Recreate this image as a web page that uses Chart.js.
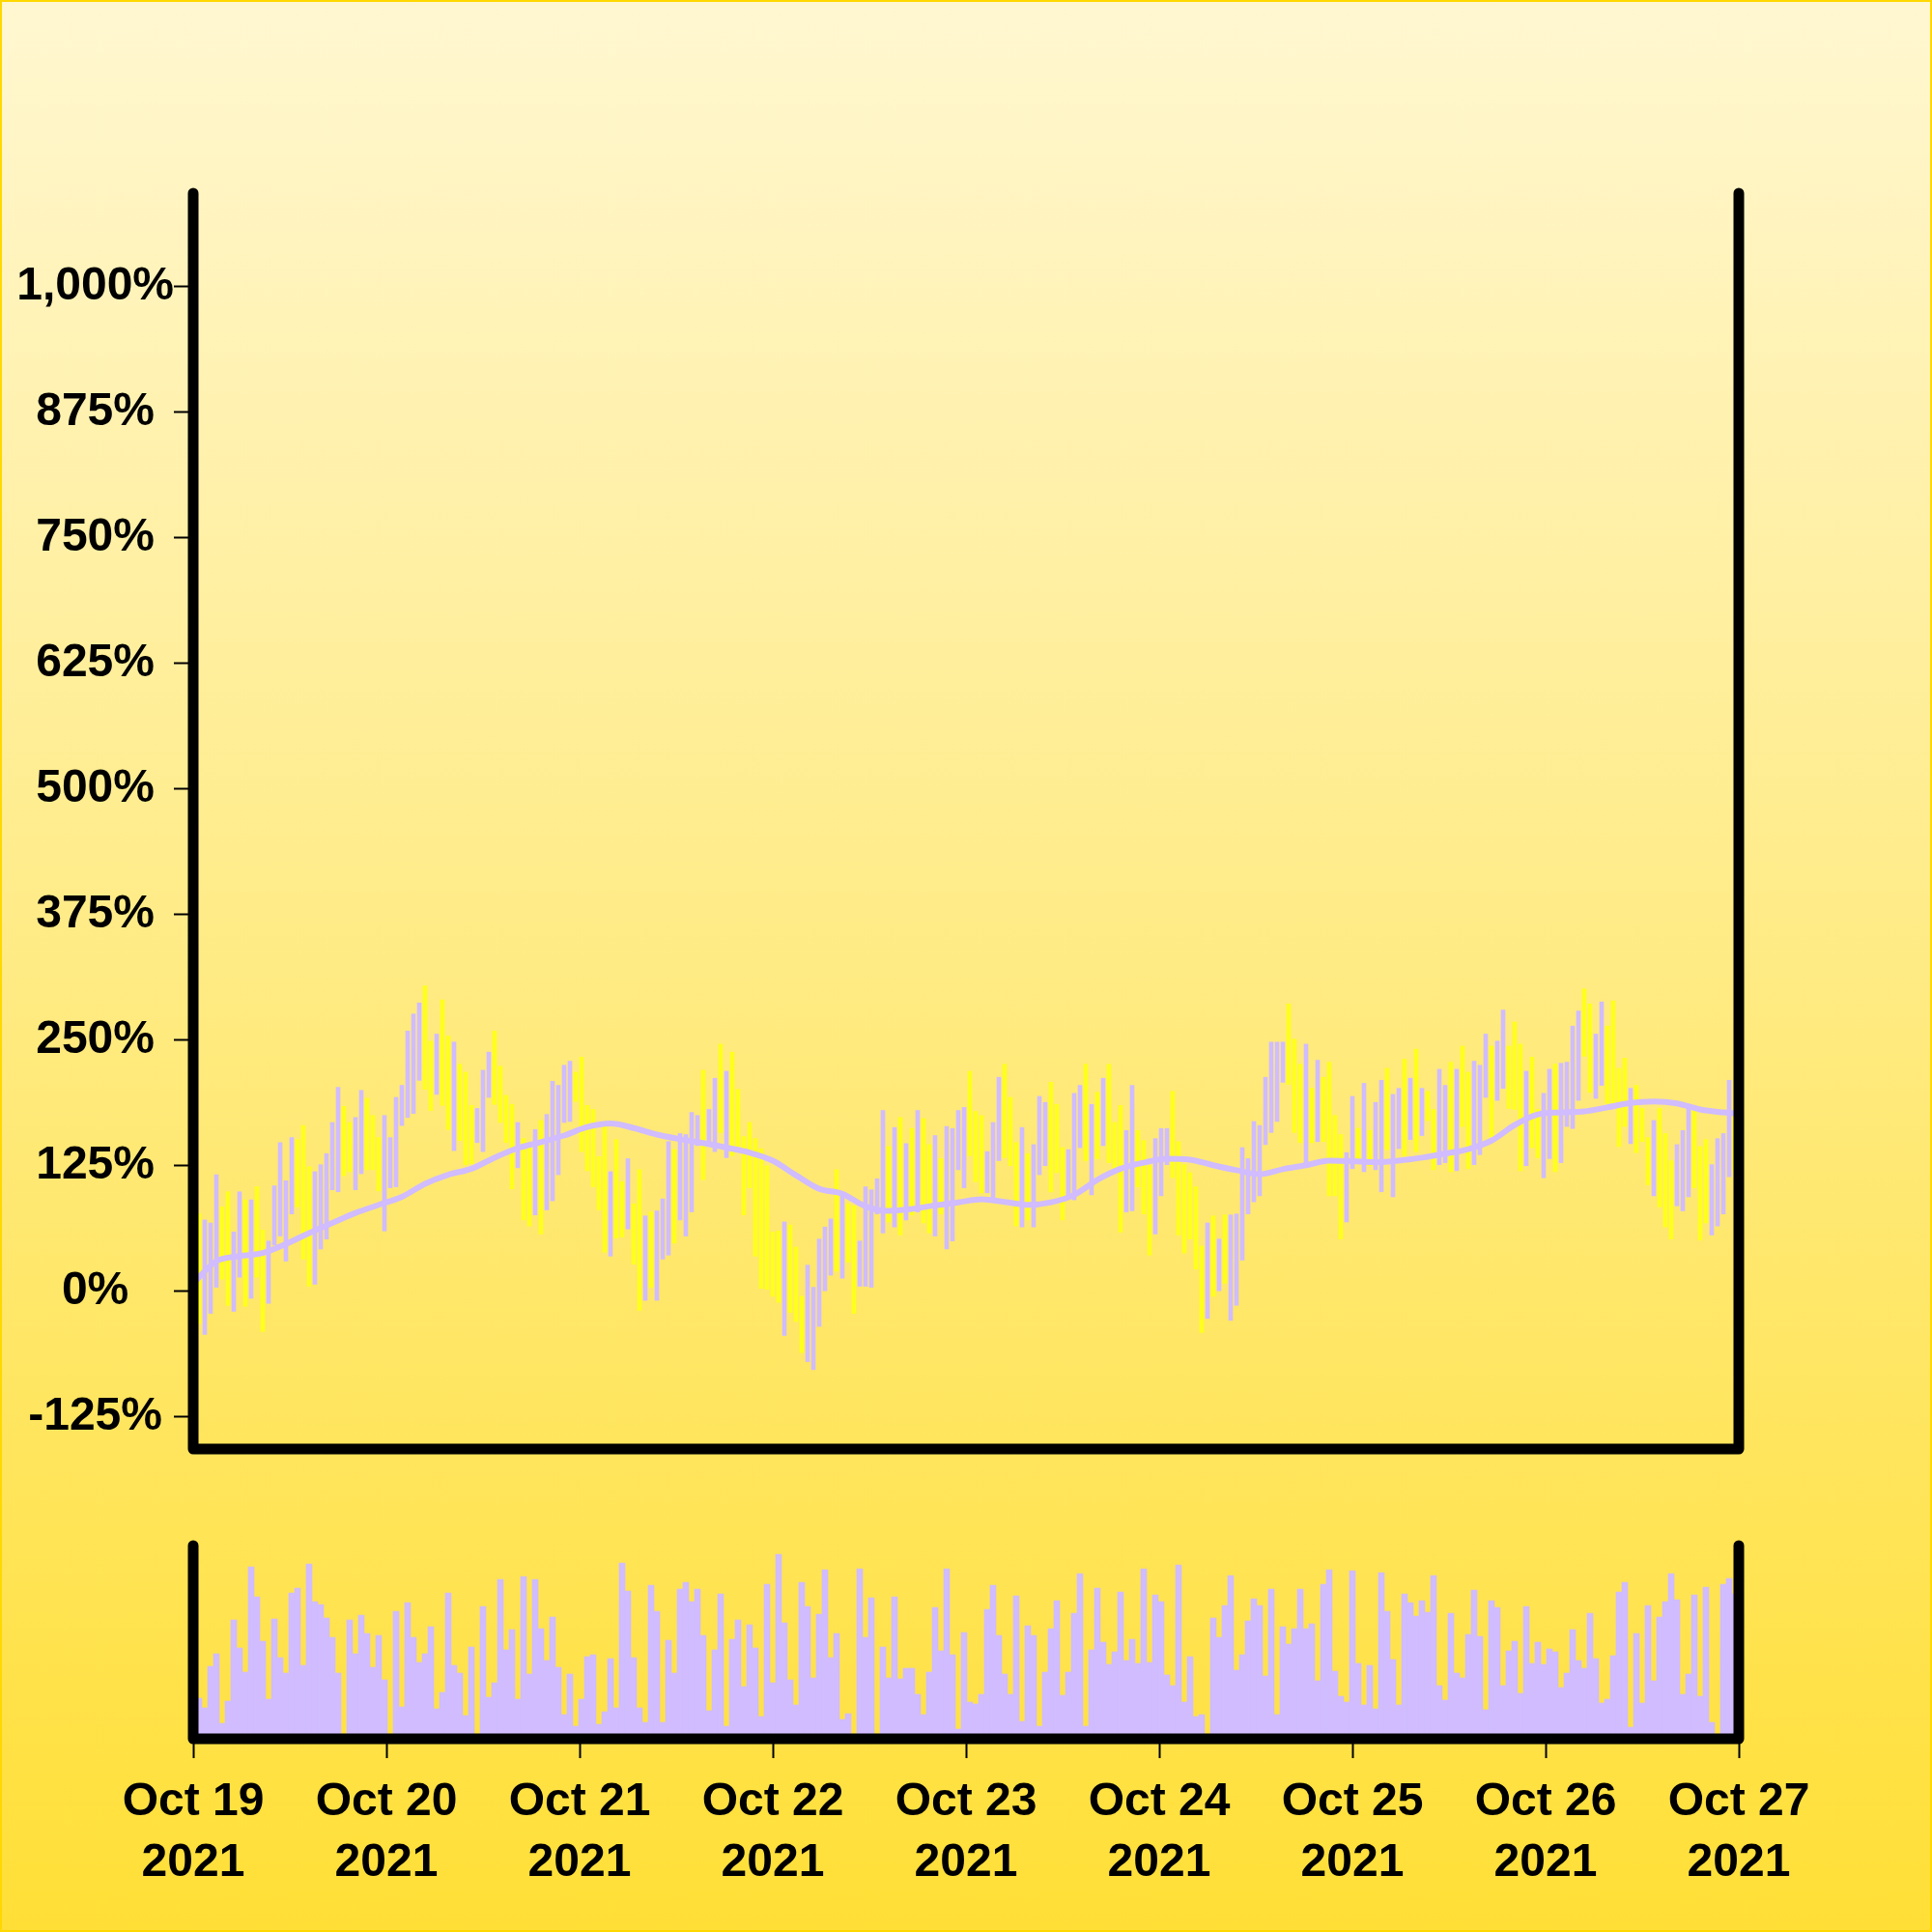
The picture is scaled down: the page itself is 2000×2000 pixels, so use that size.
<!DOCTYPE html>
<html>
<head>
<meta charset="utf-8">
<script src="https://cdn.jsdelivr.net/npm/chart.js@4.4.1/dist/chart.umd.min.js"></script>
<style>
  html, body { margin: 0; padding: 0; }
  #page {
    position: relative; width: 2000px; height: 2000px;
    background: linear-gradient(#fff7d1, #ffdf36);
    box-shadow: inset 0 0 0 2px #ffd800;
  }
  canvas { position: absolute; left: 0; top: 0; }
</style>
</head>
<body>
<div id="page">
  <canvas id="priceChart" width="2000" height="2000"></canvas>
  <canvas id="volumeChart" width="2000" height="2000"></canvas>
</div>
<script>
// one bar every 0.72 h, starting Oct 19 00:00
const BAR_HOURS = 0.72;

const highs = [
  60, 77, 71, 68, 116, 84, 99, 59, 99, 91,
  91, 104, 61, 50, 105, 148, 110, 153, 151, 165,
  124, 119, 126, 137, 168, 203, 184, 168, 173, 200,
  192, 175, 153, 175, 153, 193, 205, 259, 276, 287,
  304, 249, 256, 290, 254, 248, 226, 218, 185, 182,
  220, 238, 259, 224, 195, 186, 168, 152, 148, 161,
  170, 176, 209, 205, 225, 229, 218, 233, 185, 181,
  134, 164, 119, 151, 109, 132, 87, 121, 75, 79,
  80, 92, 149, 141, 157, 156, 178, 175, 220, 181,
  212, 246, 219, 238, 201, 154, 168, 152, 142, 125,
  59, 60, 69, 66, 44, -5, 26, 4, 52, 64,
  72, 121, 98, 87, 85, 50, 104, 101, 112, 180,
  144, 163, 173, 147, 162, 180, 172, 146, 155, 132,
  164, 162, 180, 183, 219, 179, 175, 139, 168, 213,
  226, 193, 148, 163, 137, 146, 194, 188, 208, 186,
  143, 141, 197, 205, 226, 186, 198, 212, 226, 168,
  185, 160, 205, 160, 150, 125, 152, 162, 162, 199,
  149, 126, 118, 104, 45, 68, 75, 52, 76, 76,
  77, 143, 132, 169, 165, 213, 248, 248, 248, 286,
  251, 226, 246, 202, 230, 213, 228, 175, 156, 138,
  194, 162, 207, 160, 188, 210, 222, 196, 202, 231,
  212, 241, 202, 199, 181, 221, 205, 228, 221, 244,
  218, 229, 225, 256, 244, 249, 280, 244, 268, 246,
  219, 233, 181, 197, 221, 226, 227, 228, 264, 279,
  301, 286, 256, 288, 264, 289, 222, 232, 202, 205,
  182, 153, 170, 182, 157, 130, 146, 160, 183, 180,
  144, 151, 126, 152, 157, 210, 175
];

const lows = [
  -25, -32, -43, -22, 4, 12, -14, -20, 14, -15,
  -7, 14, -40, -12, 46, 55, 30, 77, 84, 32,
  5, 7, 42, 52, 101, 99, 115, 119, 101, 117,
  121, 121, 100, 60, 103, 104, 165, 173, 177, 210,
  201, 180, 196, 185, 161, 140, 150, 126, 127, 148,
  139, 193, 186, 168, 148, 102, 123, 71, 65, 76,
  57, 81, 90, 116, 168, 169, 189, 139, 120, 104,
  81, 39, 35, 53, 54, 62, 27, -19, -9, 4,
  -9, 32, 36, 48, 71, 55, 79, 145, 111, 146,
  139, 158, 133, 135, 144, 76, 103, 35, 3, 2,
  -5, -11, -44, -21, -30, -61, -70, -78, -35, 0,
  16, 20, 13, 29, -22, 5, 5, 4, 77, 58,
  69, 64, 56, 71, 76, 79, 68, 58, 55, 77,
  42, 50, 121, 103, 135, 109, 98, 98, 93, 130,
  133, 125, 65, 64, 71, 64, 116, 125, 99, 118,
  71, 92, 91, 143, 130, 96, 132, 145, 128, 122,
  59, 79, 80, 104, 77, 36, 57, 95, 126, 113,
  56, 38, 52, 22, -41, -27, -5, 0, 8, -29,
  -14, 31, 77, 89, 95, 146, 158, 169, 208, 206,
  158, 148, 128, 148, 149, 149, 95, 95, 52, 69,
  122, 130, 119, 125, 121, 99, 141, 94, 142, 135,
  151, 139, 155, 170, 121, 126, 128, 119, 120, 164,
  122, 126, 136, 193, 154, 190, 202, 182, 181, 120,
  125, 143, 133, 113, 132, 119, 128, 164, 162, 190,
  234, 198, 192, 205, 187, 187, 144, 164, 147, 138,
  149, 106, 95, 84, 64, 52, 85, 80, 94, 103,
  51, 68, 56, 65, 77, 114, 120
];

// 1 = rising bar, 0 = falling bar
const rising = [
  1, 1, 0, 0, 0, 1, 1, 0, 0, 1,
  0, 1, 1, 0, 0, 0, 0, 0, 1, 1,
  1, 0, 0, 0, 0, 0, 1, 1, 0, 0,
  1, 1, 1, 0, 0, 0, 0, 0, 0, 0,
  1, 1, 0, 1, 1, 0, 1, 1, 1, 0,
  0, 0, 1, 1, 1, 1, 0, 1, 1, 0,
  1, 0, 0, 0, 0, 0, 1, 1, 1, 1,
  1, 1, 0, 1, 1, 0, 1, 1, 0, 1,
  0, 0, 0, 1, 0, 0, 0, 0, 1, 0,
  0, 1, 0, 1, 1, 1, 1, 1, 1, 1,
  1, 1, 0, 1, 1, 1, 0, 0, 0, 0,
  0, 1, 0, 1, 1, 0, 0, 0, 0, 0,
  1, 0, 1, 0, 1, 0, 1, 1, 0, 1,
  0, 0, 0, 0, 1, 1, 1, 0, 0, 0,
  1, 1, 1, 0, 1, 0, 0, 0, 1, 1,
  1, 0, 0, 0, 1, 0, 1, 0, 1, 1,
  1, 0, 0, 1, 1, 1, 0, 0, 0, 1,
  1, 1, 1, 1, 1, 0, 1, 0, 1, 0,
  0, 0, 0, 0, 0, 0, 0, 0, 0, 1,
  1, 1, 0, 1, 0, 1, 1, 1, 1, 0,
  0, 1, 0, 1, 0, 0, 1, 0, 0, 1,
  0, 1, 0, 1, 1, 0, 0, 1, 0, 1,
  1, 0, 0, 0, 1, 0, 0, 1, 1, 1,
  0, 1, 1, 0, 0, 1, 0, 0, 0, 0,
  1, 1, 0, 0, 1, 1, 1, 1, 0, 1,
  1, 1, 0, 1, 1, 1, 0, 0, 0, 1,
  1, 1, 0, 0, 0, 0, 1
];

const volumes = [
  45, 42, 32, 75, 88, 16, 39, 123, 94, 69,
  178, 147, 101, 41, 124, 84, 68, 151, 156, 76,
  181, 142, 139, 125, 105, 68, 4, 123, 88, 128,
  109, 74, 107, 61, 4, 132, 33, 141, 105, 79,
  88, 116, 31, 48, 151, 76, 68, 24, 95, 4,
  137, 43, 58, 165, 92, 113, 41, 168, 67, 165,
  114, 81, 126, 74, 25, 67, 13, 41, 85, 87,
  15, 28, 83, 32, 182, 153, 84, 32, 17, 159,
  132, 17, 102, 68, 155, 162, 142, 155, 107, 29,
  92, 150, 13, 103, 123, 54, 118, 94, 23, 160,
  58, 191, 120, 61, 35, 162, 137, 63, 129, 175,
  84, 109, 20, 26, 4, 176, 105, 146, 4, 95,
  63, 147, 62, 73, 73, 46, 25, 69, 136, 91,
  176, 87, 10, 110, 38, 36, 46, 134, 159, 107,
  67, 46, 148, 18, 117, 107, 13, 69, 114, 143,
  45, 69, 130, 171, 13, 92, 156, 100, 77, 90,
  152, 81, 103, 78, 176, 79, 149, 142, 66, 55,
  180, 38, 85, 23, 25, 4, 125, 105, 138, 169,
  71, 87, 122, 145, 138, 65, 155, 25, 116, 98,
  114, 155, 114, 119, 60, 160, 175, 70, 44, 38,
  174, 78, 35, 76, 31, 172, 132, 82, 35, 150,
  141, 127, 143, 131, 169, 55, 40, 130, 68, 63,
  108, 154, 106, 30, 143, 136, 55, 91, 101, 47,
  137, 78, 100, 77, 93, 90, 53, 68, 113, 81,
  73, 130, 83, 37, 41, 86, 152, 162, 12, 109,
  37, 138, 60, 126, 142, 171, 144, 46, 67, 149,
  44, 157, 17, 4, 160, 166, 150
];

// moving average, read every 4th bar (last one at the final bar)
const maValues = [
  8, 30, 35, 38, 47, 58, 68, 78, 86, 94,
  107, 116, 122, 133, 142.5, 148.5, 155, 163.5, 167, 162.5,
  156, 151.5, 147.5, 143, 138, 130, 115.5, 102, 97, 84.5,
  80, 82, 85.5, 88.5, 91.5, 89, 86, 88.5, 96, 111,
  122, 128, 132, 131, 125.5, 120.5, 116.5, 121.5, 125.5, 130,
  129.5, 128.5, 130, 133, 137, 141.5, 150, 165.5, 176, 178,
  179, 183, 187.5, 189, 187, 181, 178, 177
];

const yTicks = [-125, 0, 125, 250, 375, 500, 625, 750, 875, 1000];
const dayHours = [0, 24, 48, 72, 96, 120, 144, 168, 192];
const dayLabels = ['Oct 19', 'Oct 20', 'Oct 21', 'Oct 22', 'Oct 23', 'Oct 24', 'Oct 25', 'Oct 26', 'Oct 27'];
const yearLabel = '2021';

const LAVENDER = '#d0bcff';
const YELLOW = '#ffff1e';
const FONT = '"Liberation Sans", Arial, Helvetica, sans-serif';

Chart.defaults.font.family = FONT;
Chart.defaults.color = '#000';

const lastBar = highs.length - 1;
const rangePoints = highs.map((h, k) => ({ x: k * BAR_HOURS, y: [lows[k], h] }));
const barColors = rising.map(r => r ? YELLOW : LAVENDER);
const maPoints = maValues.map((v, i) => ({ x: Math.min(i * 4, lastBar) * BAR_HOURS, y: v }));
const volumePoints = volumes.map((v, k) => ({ x: k * BAR_HOURS, y: v }));

// box with rounded ends around the plot area
const framePlugin = {
  id: 'frame',
  afterDatasetsDraw(chart) {
    const ctx = chart.ctx;
    const a = chart.chartArea;
    ctx.save();
    ctx.strokeStyle = '#000';
    ctx.lineWidth = 11;
    ctx.lineCap = 'round';
    ctx.lineJoin = 'round';
    ctx.beginPath();
    ctx.moveTo(a.left, a.top);
    ctx.lineTo(a.left, a.bottom);
    ctx.lineTo(a.right, a.bottom);
    ctx.lineTo(a.right, a.top);
    ctx.stroke();
    ctx.restore();
  }
};

const tickFont = { family: FONT, size: 48, weight: 'bold', lineHeight: 1.3 };

const priceConfig = {
  type: 'bar',
  data: {
    datasets: [
      {
        type: 'line',
        data: maPoints,
        borderColor: LAVENDER,
        borderWidth: 6,
        pointRadius: 0,
        cubicInterpolationMode: 'monotone',
        order: 0
      },
      {
        type: 'bar',
        data: rangePoints,
        backgroundColor: barColors,
        borderWidth: 0,
        barThickness: 4,
        order: 1
      }
    ]
  },
  options: {
    responsive: false,
    animation: false,
    devicePixelRatio: 1,
    layout: { padding: { top: 200, right: 200, bottom: 500, left: 0 } },
    plugins: { legend: { display: false }, tooltip: { enabled: false } },
    scales: {
      x: { type: 'linear', min: 0, max: 192, offset: false, display: false },
      y: {
        min: -157,
        max: 1093,
        afterFit: s => { s.width = 200; },
        afterBuildTicks: s => { s.ticks = yTicks.map(v => ({ value: v })); },
        border: { display: false },
        grid: { drawOnChartArea: false, tickLength: 20, tickColor: '#000', tickWidth: 2 },
        ticks: {
          crossAlign: 'center',
          padding: 0,
          color: '#000',
          font: tickFont,
          callback: v => v.toLocaleString('en-US') + '%'
        }
      }
    }
  },
  plugins: [framePlugin]
};

const volumeConfig = {
  type: 'bar',
  data: {
    datasets: [{
      data: volumePoints,
      backgroundColor: LAVENDER,
      borderWidth: 0,
      barPercentage: 1,
      categoryPercentage: 1
    }]
  },
  options: {
    responsive: false,
    animation: false,
    devicePixelRatio: 1,
    layout: { padding: { top: 1600, right: 200, bottom: 0, left: 200 } },
    plugins: { legend: { display: false }, tooltip: { enabled: false } },
    scales: {
      x: {
        type: 'linear',
        min: 0,
        max: 192,
        offset: false,
        afterFit: s => { s.height = 200; },
        afterBuildTicks: s => { s.ticks = dayHours.map(v => ({ value: v })); },
        border: { display: false },
        grid: { offset: false, drawOnChartArea: false, tickLength: 20, tickColor: '#000', tickWidth: 2 },
        ticks: {
          autoSkip: false,
          maxRotation: 0,
          padding: 15,
          color: '#000',
          font: tickFont,
          callback: (v, i) => [dayLabels[i], yearLabel]
        }
      },
      y: { display: false, min: 0, max: 200 }
    }
  },
  plugins: [framePlugin]
};

new Chart(document.getElementById('priceChart'), priceConfig);
new Chart(document.getElementById('volumeChart'), volumeConfig);
</script>
</body>
</html>
